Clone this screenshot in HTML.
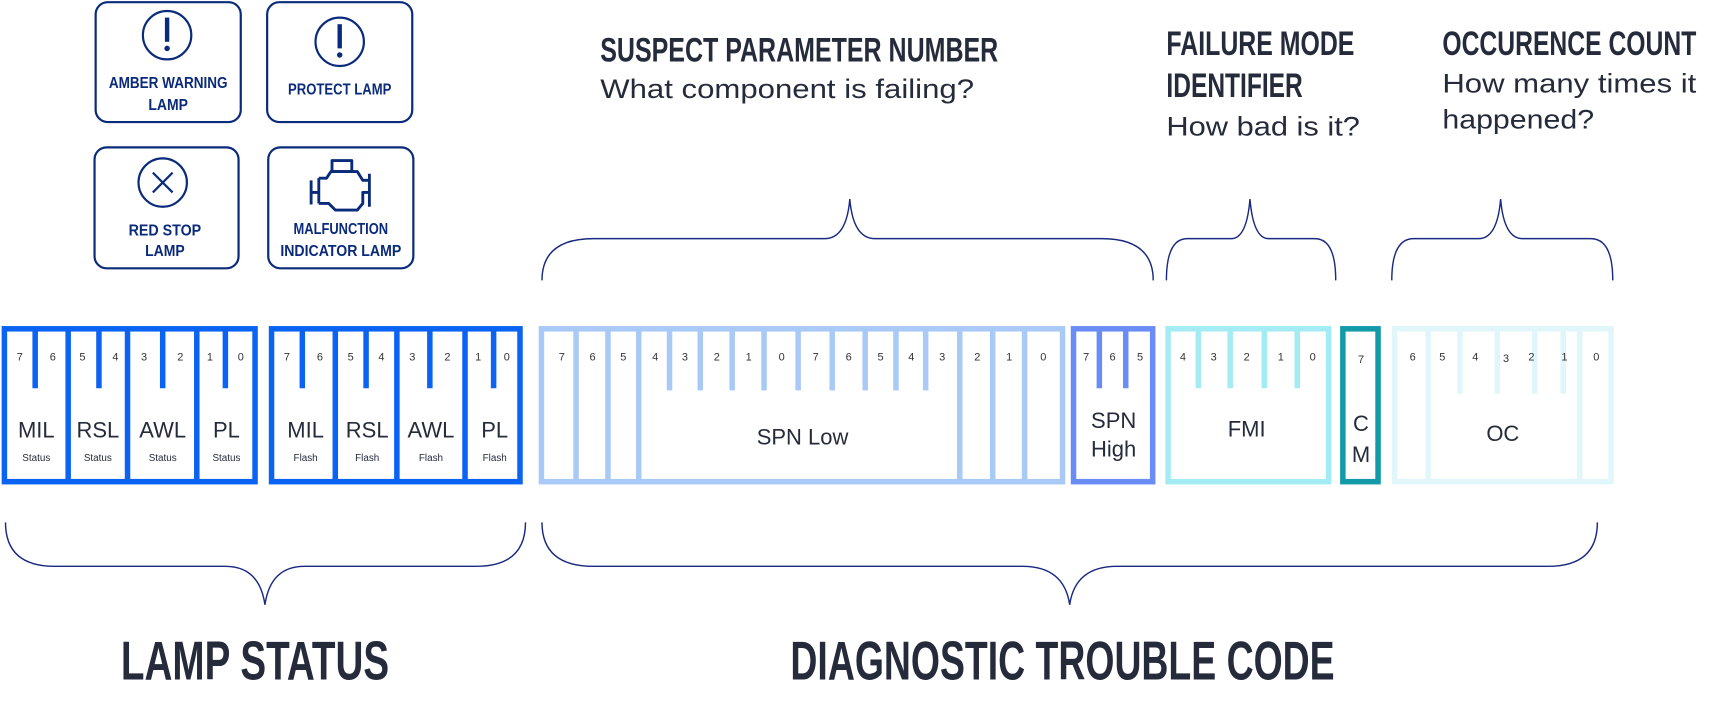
<!DOCTYPE html>
<html><head><meta charset="utf-8"><style>
html,body{margin:0;padding:0;background:#fff;}
svg{display:block;}
text{font-family:"Liberation Sans",sans-serif;fill:#252b3b;}
.c{font-family:"Liberation Sans Narrow","Liberation Sans",sans-serif;font-weight:bold;}
.b{font-size:10px;text-anchor:middle;fill:#333;}
.n{font-size:20px;text-anchor:middle;}
.s{font-size:9px;text-anchor:middle;}
.ic{font-size:14px;fill:#0a2a7a;text-anchor:middle;}
</style></head><body>
<svg width="1715" height="717" viewBox="0 0 1560 652" preserveAspectRatio="none" xmlns="http://www.w3.org/2000/svg">
<g fill="none" stroke="#0a2a7a" stroke-width="2">
<rect x="87" y="2" width="132" height="109" rx="11"/>
<rect x="243" y="2" width="132" height="109" rx="11"/>
<rect x="86" y="134" width="131" height="110" rx="11"/>
<rect x="244" y="134" width="132" height="110" rx="11"/>
<circle cx="152" cy="32" r="22"/>
<circle cx="309" cy="38" r="22"/>
<circle cx="148" cy="166" r="22"/>
<line x1="139" y1="157" x2="157" y2="175"/><line x1="157" y1="157" x2="139" y2="175"/>
</g>
<g fill="none" stroke="#0a2a7a" stroke-width="2.6" stroke-linejoin="round">
<path d="M283 164v22M283 175h7M290 162h7l4-6h24l5 8h6v-6M336 158v30M336 175h-6v10l-5 6h-20l-6-6h-9M290 162v23"/>
<path d="M302 146h18v10h-18z"/>
</g>
<g fill="#0a2a7a"><rect x="150" y="16" width="4" height="22"/><circle cx="152" cy="44" r="2.5"/>
<rect x="307" y="22" width="4" height="22"/><circle cx="309" cy="50" r="2.5"/></g>
<text class="c ic" x="153" y="80" textLength="108" lengthAdjust="spacingAndGlyphs">AMBER WARNING</text>
<text class="c ic" x="153" y="100" textLength="36" lengthAdjust="spacingAndGlyphs">LAMP</text>
<text class="c ic" x="309" y="86" textLength="94" lengthAdjust="spacingAndGlyphs">PROTECT LAMP</text>
<text class="c ic" x="150" y="214" textLength="66" lengthAdjust="spacingAndGlyphs">RED STOP</text>
<text class="c ic" x="150" y="233" textLength="36" lengthAdjust="spacingAndGlyphs">LAMP</text>
<text class="c ic" x="310" y="213" textLength="86" lengthAdjust="spacingAndGlyphs">MALFUNCTION</text>
<text class="c ic" x="310" y="233" textLength="110" lengthAdjust="spacingAndGlyphs">INDICATOR LAMP</text>

<text class="c" x="546" y="56" font-size="31" textLength="362" lengthAdjust="spacingAndGlyphs">SUSPECT PARAMETER NUMBER</text>
<text x="546" y="89" font-size="24" textLength="340" lengthAdjust="spacingAndGlyphs">What component is failing?</text>
<text class="c" x="1061" y="50" font-size="31" textLength="171" lengthAdjust="spacingAndGlyphs">FAILURE MODE</text>
<text class="c" x="1061" y="88" font-size="31" textLength="124" lengthAdjust="spacingAndGlyphs">IDENTIFIER</text>
<text x="1061" y="123" font-size="24" textLength="176" lengthAdjust="spacingAndGlyphs">How bad is it?</text>
<text class="c" x="1312" y="50" font-size="31" textLength="231" lengthAdjust="spacingAndGlyphs">OCCURENCE COUNT</text>
<text x="1312" y="84" font-size="24" textLength="231" lengthAdjust="spacingAndGlyphs">How many times it</text>
<text x="1312" y="117" font-size="24" textLength="138" lengthAdjust="spacingAndGlyphs">happened?</text>
<text class="c" x="110" y="618" font-size="50" textLength="244" lengthAdjust="spacingAndGlyphs">LAMP STATUS</text>
<text class="c" x="719" y="618" font-size="50" textLength="495" lengthAdjust="spacingAndGlyphs">DIAGNOSTIC TROUBLE CODE</text>

<g fill="none" stroke="#1a2a80" stroke-width="1.3">
<path d="M493 255 Q493 217 540 217 H750 Q770 217 773 181 Q776 217 796 217 H1002 Q1049 217 1049 255"/>
<path d="M1061 255 Q1061 217 1080 217 H1120 Q1134 217 1137 181 Q1140 217 1154 217 H1196 Q1215 217 1215 255"/>
<path d="M1266 255 Q1266 217 1286 217 H1345 Q1362 217 1365 181 Q1368 217 1385 217 H1447 Q1467 217 1467 255"/>
<path d="M5 475 Q5 515 50 515 H205 Q236 515 241 550 Q246 515 277 515 H433 Q478 515 478 475"/>
<path d="M493 475 Q493 515 540 515 H930 Q968 515 973 550 Q978 515 1016 515 H1408 Q1453 515 1453 475"/>
</g>

<g stroke="#0a63f2" fill="none" stroke-width="5">
<rect x="4" y="299" width="228" height="139"/>
<rect x="247" y="299" width="226" height="139"/>
</g>
<g stroke="#0a63f2" stroke-width="5">
<line x1="62" y1="299" x2="62" y2="440"/><line x1="116" y1="299" x2="116" y2="440"/><line x1="179" y1="299" x2="179" y2="440"/>
<line x1="32" y1="299" x2="32" y2="353"/><line x1="90" y1="299" x2="90" y2="353"/><line x1="148" y1="299" x2="148" y2="353"/><line x1="205" y1="299" x2="205" y2="353"/>
<line x1="305" y1="299" x2="305" y2="440"/><line x1="361" y1="299" x2="361" y2="440"/><line x1="423" y1="299" x2="423" y2="440"/>
<line x1="275" y1="299" x2="275" y2="353"/><line x1="333" y1="299" x2="333" y2="353"/><line x1="391" y1="299" x2="391" y2="353"/><line x1="449" y1="299" x2="449" y2="353"/>
</g>
<g>
<text class="b" x="18" y="328">7</text><text class="b" x="48" y="328">6</text><text class="b" x="75" y="328">5</text><text class="b" x="105" y="328">4</text>
<text class="b" x="131" y="328">3</text><text class="b" x="164" y="328">2</text><text class="b" x="191" y="328">1</text><text class="b" x="219" y="328">0</text>
<text class="b" x="261" y="328">7</text><text class="b" x="291" y="328">6</text><text class="b" x="319" y="328">5</text><text class="b" x="347" y="328">4</text>
<text class="b" x="375" y="328">3</text><text class="b" x="407" y="328">2</text><text class="b" x="435" y="328">1</text><text class="b" x="461" y="328">0</text>
</g>
<text class="n" x="33" y="398">MIL</text><text class="n" x="89" y="398">RSL</text><text class="n" x="148" y="398">AWL</text><text class="n" x="206" y="398">PL</text>
<text class="n" x="278" y="398">MIL</text><text class="n" x="334" y="398">RSL</text><text class="n" x="392" y="398">AWL</text><text class="n" x="450" y="398">PL</text>
<text class="s" x="33" y="419">Status</text><text class="s" x="89" y="419">Status</text><text class="s" x="148" y="419">Status</text><text class="s" x="206" y="419">Status</text>
<text class="s" x="278" y="419">Flash</text><text class="s" x="334" y="419">Flash</text><text class="s" x="392" y="419">Flash</text><text class="s" x="450" y="419">Flash</text>

<g stroke="#a9c9f7" stroke-width="5" fill="none">
<rect x="492.5" y="299" width="474" height="139"/>
<path d="M524 299V440M553 299V440M581 299V440M873 299V440M903 299V440M932 299V440"/>
<path d="M609 299V355M637 299V355M666 299V355M695 299V355M726 299V355M757 299V355M787 299V355M815 299V355M842 299V355"/>
</g>
<g>
<text class="b" x="511" y="328">7</text><text class="b" x="539" y="328">6</text><text class="b" x="567" y="328">5</text><text class="b" x="596" y="328">4</text>
<text class="b" x="623" y="328">3</text><text class="b" x="652" y="328">2</text><text class="b" x="681" y="328">1</text><text class="b" x="711" y="328">0</text>
<text class="b" x="742" y="328">7</text><text class="b" x="772" y="328">6</text><text class="b" x="801" y="328">5</text><text class="b" x="829" y="328">4</text>
<text class="b" x="857" y="328">3</text><text class="b" x="889" y="328">2</text><text class="b" x="918" y="328">1</text><text class="b" x="949" y="328">0</text>
</g>
<text class="n" x="730" y="404" font-size="19">SPN Low</text>

<g stroke="#6a8cf7" stroke-width="5" fill="none">
<rect x="976.5" y="299" width="72" height="139"/>
<path d="M1000 299V353M1024 299V353"/>
</g>
<text class="b" x="988" y="328">7</text><text class="b" x="1012" y="328">6</text><text class="b" x="1037" y="328">5</text>
<text class="n" x="1013" y="389" font-size="19">SPN</text><text class="n" x="1013" y="415" font-size="19">High</text>

<g stroke="#a3ecf4" stroke-width="5" fill="none">
<rect x="1062.5" y="299" width="146" height="139"/>
<path d="M1090 299V353M1119 299V353M1150 299V353M1180 299V353"/>
</g>
<text class="b" x="1076" y="328">4</text><text class="b" x="1104" y="328">3</text><text class="b" x="1134" y="328">2</text><text class="b" x="1165" y="328">1</text><text class="b" x="1194" y="328">0</text>
<text class="n" x="1134" y="397" font-size="19">FMI</text>

<rect x="1221.5" y="299" width="32" height="139" fill="none" stroke="#129aa8" stroke-width="5"/>
<text class="b" x="1238" y="330">7</text>
<text class="n" x="1238" y="392" font-size="19">C</text><text class="n" x="1238" y="420" font-size="19">M</text>

<g stroke="#e0f6fa" stroke-width="5" fill="none">
<rect x="1268.5" y="299" width="197" height="139"/>
<path d="M1299 299V440M1437 299V440"/>
<path d="M1328 299V358M1362 299V358M1396 299V358M1422 299V358"/>
</g>
<text class="b" x="1285" y="328">6</text><text class="b" x="1312" y="328">5</text><text class="b" x="1342" y="328">4</text><text class="b" x="1370" y="329">3</text>
<text class="b" x="1393" y="328">2</text><text class="b" x="1423" y="328">1</text><text class="b" x="1452" y="328">0</text>
<text class="n" x="1367" y="401" font-size="19">OC</text>
</svg>
</body></html>
